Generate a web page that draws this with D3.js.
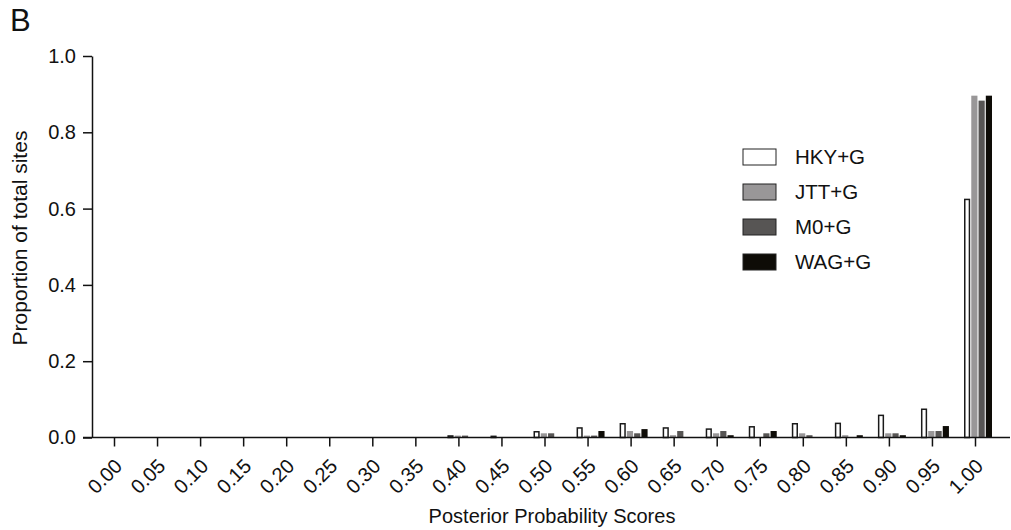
<!DOCTYPE html>
<html>
<head>
<meta charset="utf-8">
<script src="https://cdn.jsdelivr.net/npm/d3@7"></script>
<style>
  html, body { margin: 0; padding: 0; background: #fff; }
  svg text { font-family: "Liberation Sans", Arial, sans-serif; fill: #111; }
</style>
</head>
<body>
<svg id="chart" width="1011" height="530"></svg>
<script>
const categories = ["0.00","0.05","0.10","0.15","0.20","0.25","0.30","0.35","0.40","0.45","0.50","0.55","0.60","0.65","0.70","0.75","0.80","0.85","0.90","0.95","1.00"];
const seriesNames = ["HKY+G","JTT+G","M0+G","WAG+G"];
const hky = [0,0,0,0,0,0,0,0,0.006,0.005,0.017,0.027,0.038,0.027,0.024,0.030,0.038,0.039,0.060,0.076,0.626];
const jtt = [0,0,0,0,0,0,0,0,0.005,0,0.011,0.005,0.017,0.006,0.011,0,0.011,0.006,0.011,0.017,0.896];
const m0  = [0,0,0,0,0,0,0,0,0.005,0,0.011,0.005,0.011,0.017,0.017,0.011,0.006,0,0.011,0.017,0.883];
const wag = [0,0,0,0,0,0,0,0,0,0,0,0.017,0.022,0,0.006,0.017,0,0.006,0.006,0.030,0.896];
const yTicks = [0, 0.2, 0.4, 0.6, 0.8, 1.0];

const seriesValues = [hky, jtt, m0, wag];
const fills = ["#ffffff", "#999798", "#575554", "#0e0c07"];
const strokes = ["#1a1a1a", "none", "none", "none"];

const svg = d3.select("#chart");
const xTickL = 114, xTickR = 975, step = (xTickR - xTickL) / (categories.length - 1);
const yAxisX = 92;

const y = d3.scaleLinear().domain([0, 1]).range([437.5, 56]);

const xTick = d3.scalePoint().domain(categories).range([xTickL, xTickR]);
const x0 = d3.scaleBand().domain(categories)
  .range([xTickL - step / 2 + 3, xTickR + step / 2 + 3])
  .paddingInner(0.35).paddingOuter(0.175);
const x1 = d3.scaleBand().domain(seriesNames).range([0, x0.bandwidth()]).paddingInner(0.15);

// bars
const groups = svg.append("g").selectAll("g")
  .data(categories)
  .join("g")
  .attr("transform", d => `translate(${x0(d)},0)`);

groups.selectAll("rect")
  .data((c, i) => seriesNames.map((s, j) => ({ s, j, v: seriesValues[j][i] })))
  .join("rect")
  .filter(d => d.v > 0)
  .attr("x", d => x1(d.s) + (d.j === 0 ? 0.75 : 0))
  .attr("width", d => x1.bandwidth() - (d.j === 0 ? 1.5 : 0))
  .attr("y", d => y(d.v) + (d.j === 0 ? 0.75 : 0))
  .attr("height", d => Math.max(0, y(0) - y(d.v) - (d.j === 0 ? 0.75 : 0)))
  .attr("fill", d => fills[d.j])
  .attr("stroke", d => strokes[d.j])
  .attr("stroke-width", 1.5);

// y axis
const yAxis = svg.append("g")
  .attr("transform", `translate(${yAxisX},0)`)
  .call(d3.axisLeft(y).tickValues(yTicks).tickFormat(d3.format(".1f")).tickSize(9).tickSizeOuter(0).tickPadding(7));
yAxis.selectAll("text").style("font-size", "20px").attr("fill", "#111");
yAxis.selectAll("line, path").attr("stroke", "#111").attr("stroke-width", 1.5);

// x axis
const xAxis = svg.append("g")
  .attr("transform", `translate(0,${y(0)})`)
  .call(d3.axisBottom(xTick).tickSize(9).tickSizeOuter(0));
xAxis.select(".domain").remove();
xAxis.append("line")
  .attr("x1", yAxisX - 9).attr("x2", 1010).attr("y1", 0).attr("y2", 0)
  .attr("stroke", "#111").attr("stroke-width", 1.5);
xAxis.selectAll(".tick line").attr("stroke", "#111").attr("stroke-width", 1.5);
xAxis.selectAll(".tick text")
  .style("font-size", "20px")
  .attr("fill", "#111")
  .attr("text-anchor", "end")
  .attr("x", 0).attr("y", 0).attr("dy", "0.35em")
  .attr("transform", "translate(4,25) rotate(-45)");

// axis titles
svg.append("text")
  .attr("transform", "translate(27,238) rotate(-90)")
  .attr("text-anchor", "middle")
  .style("font-size", "21px")
  .text("Proportion of total sites");

svg.append("text")
  .attr("x", 552).attr("y", 523)
  .attr("text-anchor", "middle")
  .style("font-size", "20px")
  .text("Posterior Probability Scores");

svg.append("text")
  .attr("x", 10).attr("y", 31)
  .style("font-size", "31px")
  .text("B");

// legend
const legendRows = [157, 192, 227, 262];
const legend = svg.append("g").selectAll("g")
  .data(seriesNames)
  .join("g")
  .attr("transform", (d, i) => `translate(743,${legendRows[i]})`);
legend.append("rect")
  .attr("x", 0).attr("y", -8).attr("width", 33).attr("height", 16)
  .attr("fill", (d, i) => fills[i])
  .attr("stroke", "#222").attr("stroke-width", 1);
legend.append("text")
  .attr("x", 52).attr("y", 0).attr("dy", "0.35em")
  .style("font-size", "20.5px")
  .text(d => d);
</script>
</body>
</html>
